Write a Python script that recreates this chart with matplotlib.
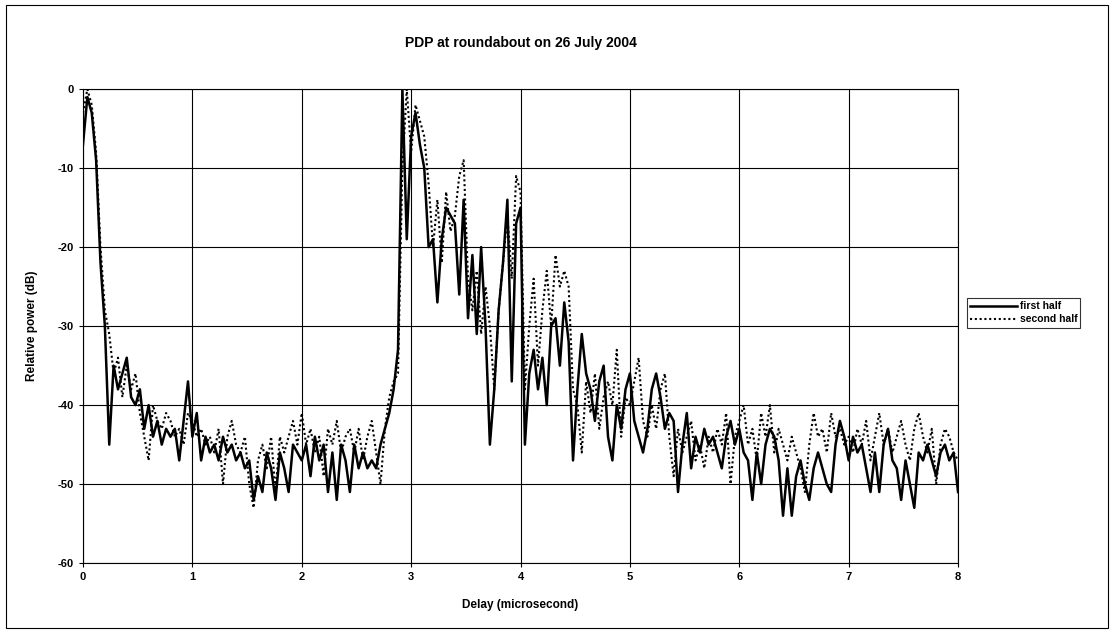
import numpy as np
import matplotlib
matplotlib.use("Agg")
import matplotlib.pyplot as plt
from matplotlib.patches import Rectangle

plt.rcParams['font.family'] = ['Liberation Sans', 'DejaVu Sans']
plt.rcParams['font.weight'] = 'bold'
plt.rcParams['axes.unicode_minus'] = False

# delay axis, 0.04 us steps from 0 to 8
delay = np.round(np.arange(0, 8.0001, 0.04), 2)

# first half (solid), values in dB read per 1 us row
first_half = [
    -7, -1, -3, -9, -22, -30, -45, -35, -38, -36, -34, -39, -40, -38, -43, -40, -44, -42, -45, -43, -44, -43, -47, -42, -37,
    -44, -41, -47, -44, -46, -45, -47, -44, -46, -45, -47, -46, -48, -47, -52, -49, -51, -46, -48, -52, -46, -48, -51, -45, -46,
    -47, -45, -49, -44, -47, -45, -51, -46, -52, -45, -47, -51, -45, -48, -46, -48, -47, -48, -45, -43, -41, -38, -33, 0, -19,
    -6, -3, -7, -10, -20, -19, -27, -19, -15, -16, -17, -26, -14, -29, -21, -31, -20, -30, -45, -38, -28, -22, -14, -37, -17,
    -15, -45, -36, -33, -38, -34, -40, -30, -29, -35, -27, -32, -47, -38, -31, -36, -38, -42, -37, -35, -44, -47, -40, -43, -38,
    -36, -42, -44, -46, -43, -38, -36, -39, -43, -41, -42, -51, -45, -41, -48, -44, -46, -43, -45, -44, -46, -48, -44, -42, -45,
    -43, -46, -47, -52, -46, -50, -45, -43, -44, -47, -54, -48, -54, -49, -47, -50, -52, -48, -46, -48, -50, -51, -45, -42, -44,
    -47, -44, -46, -45, -48, -51, -46, -51, -45, -43, -47, -48, -52, -47, -50, -53, -46, -47, -45, -47, -49, -46, -45, -47, -46,
    -51,
]

# second half (dotted)
second_half = [
    -3, 0, -2, -8, -20, -28, -31, -36, -34, -39, -35, -38, -36, -41, -44, -47, -40, -42, -43, -41, -42, -44, -43, -45, -41,
    -42, -44, -43, -45, -44, -46, -43, -50, -44, -42, -45, -46, -44, -50, -53, -47, -45, -48, -44, -51, -44, -46, -44, -42, -45,
    -41, -45, -43, -46, -44, -49, -43, -45, -42, -46, -44, -43, -46, -43, -47, -44, -42, -46, -50, -43, -39, -37, -36, -10, 0,
    -8, -2, -4, -6, -12, -20, -14, -22, -13, -18, -16, -11, -9, -24, -28, -23, -31, -25, -30, -38, -28, -22, -16, -24, -11,
    -13, -38, -30, -24, -35, -28, -23, -30, -21, -25, -23, -25, -38, -40, -46, -37, -41, -36, -43, -39, -37, -40, -33, -44, -39,
    -40, -37, -34, -42, -44, -40, -43, -38, -36, -44, -49, -43, -46, -44, -42, -47, -45, -48, -44, -46, -43, -45, -41, -50, -44,
    -42, -40, -45, -43, -47, -41, -44, -40, -46, -43, -45, -47, -44, -46, -48, -51, -45, -41, -44, -43, -46, -41, -44, -43, -45,
    -44, -46, -43, -45, -42, -47, -44, -41, -45, -43, -46, -44, -42, -45, -47, -43, -41, -44, -46, -43, -50, -45, -43, -44, -46,
    -47,
]

x_ticks = list(range(0, 9))
y_ticks = [0, -10, -20, -30, -40, -50, -60]

fig = plt.figure(figsize=(11.14, 6.32), dpi=100)
fig.patches.append(Rectangle((0.005, 0.006), 0.99, 0.986, transform=fig.transFigure,
                             fill=False, edgecolor='black', linewidth=0.8))

ax = fig.add_axes([0.0745, 0.109, 0.7855, 0.750])
ax.plot(delay, first_half, color='black', linewidth=1.8, label='first half')
ax.plot(delay, second_half, color='black', linewidth=1.5, linestyle=(0, (1, 1.3)), label='second half')

ax.set_xlim(0, 8)
ax.set_ylim(-60, 0)
ax.set_xticks(x_ticks)
ax.set_yticks(y_ticks)
ax.grid(True, color='black', linewidth=0.8)
for s in ax.spines.values():
    s.set_linewidth(0.8)
ax.tick_params(labelsize=8, length=3, width=0.8)
for lab in ax.get_xticklabels() + ax.get_yticklabels():
    lab.set_fontweight('bold')

ax.set_title('PDP at roundabout on 26 July 2004', fontsize=10, fontweight='bold', pad=30)
ax.set_xlabel('Delay (microsecond)', fontsize=8.5, fontweight='bold', labelpad=12)
ax.set_ylabel('Relative power (dB)', fontsize=8.5, fontweight='bold', labelpad=14)

leg = fig.legend(loc='center left', bbox_to_anchor=(0.863, 0.505), fontsize=7.5,
                 frameon=True, fancybox=False, edgecolor='black', handlelength=4.5,
                 borderpad=0.3, labelspacing=0.3, handletextpad=0.3)
leg.get_frame().set_linewidth(0.8)

fig.savefig('out.png', dpi=100)
